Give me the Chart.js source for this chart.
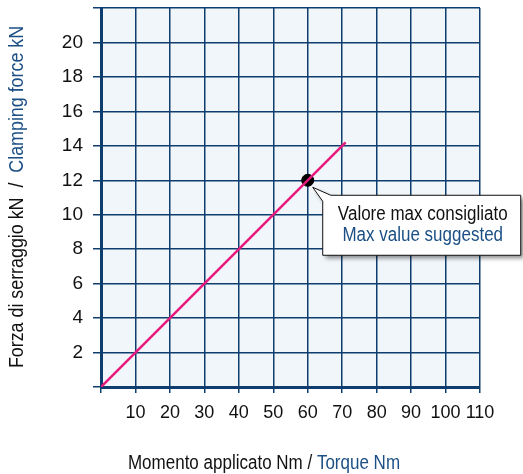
<!DOCTYPE html>
<html>
<head>
<meta charset="utf-8">
<script src="https://cdn.jsdelivr.net/npm/chart.js@4"></script>
<style>
  html, body { margin: 0; padding: 0; background: #fff; }
  #wrap { width: 523px; height: 474px; position: relative; }
</style>
</head>
<body>
<div id="wrap"><canvas id="c" width="523" height="474"></canvas></div>
<script>
// torque (Nm) vs clamping force (kN)
const torque = [0, 71];
const force = [0, 14.2];
// suggested max
const maxTorque = [60];
const maxForce = [12];

const xRange = [0, 110];
const yRange = [0, 22];

const FONT = "'Liberation Sans', Arial, sans-serif";
const NAVY = '#0f3d6d';
const BLUE = '#1b4f85';
const SQUEEZE = 0.85; // reference type is condensed

function drawParts(ctx, parts, x, y) {
  // parts centered on x, squeezed horizontally
  ctx.save();
  ctx.translate(x, y);
  ctx.scale(SQUEEZE, 1);
  let total = 0;
  parts.forEach(p => total += ctx.measureText(p[0]).width);
  let cx = -total / 2;
  parts.forEach(p => {
    ctx.fillStyle = p[1];
    ctx.fillText(p[0], cx, 0);
    cx += ctx.measureText(p[0]).width;
  });
  ctx.restore();
}

const extras = {
  id: 'extras',
  beforeDraw(chart) {
    const a = chart.chartArea, ctx = chart.ctx;
    ctx.save();
    ctx.fillStyle = '#f1f6fb';
    ctx.fillRect(a.left, a.top, a.right - a.left, a.bottom - a.top);
    ctx.restore();
  },
  afterDraw(chart) {
    const ctx = chart.ctx;
    ctx.save();
    ctx.font = '20px ' + FONT;
    ctx.textBaseline = 'middle';
    ctx.textAlign = 'left';
    drawParts(ctx, [['Momento applicato Nm / ', '#111'], ['Torque Nm', BLUE]], 264, 463);
    ctx.font = '21px ' + FONT;
    ctx.translate(17, 197);
    ctx.rotate(-Math.PI / 2);
    drawParts(ctx, [['Forza di serraggio kN  /  ', '#111'], ['Clamping force kN', BLUE]], 0, 0);
    ctx.restore();

    // callout
    const px = chart.scales.x.getPixelForValue(maxTorque[0]);
    const py = chart.scales.y.getPixelForValue(maxForce[0]);
    const bx = px + 15, by = py + 15, bw = 198, bh = 60;
    ctx.save();
    ctx.shadowColor = 'rgba(0,0,0,0.45)';
    ctx.shadowBlur = 4;
    ctx.shadowOffsetX = 3;
    ctx.shadowOffsetY = 3;
    ctx.beginPath();
    ctx.moveTo(px + 5, py + 7);
    ctx.lineTo(bx + 8, by);
    ctx.lineTo(bx + bw, by);
    ctx.lineTo(bx + bw, by + bh);
    ctx.lineTo(bx, by + bh);
    ctx.lineTo(bx, by + 6);
    ctx.closePath();
    ctx.fillStyle = '#fff';
    ctx.fill();
    ctx.shadowColor = 'transparent';
    ctx.strokeStyle = '#111';
    ctx.lineWidth = 1;
    ctx.stroke();
    ctx.font = '20px ' + FONT;
    ctx.textAlign = 'left';
    ctx.textBaseline = 'middle';
    drawParts(ctx, [['Valore max consigliato', '#111']], bx + bw / 2 + 1, by + 19);
    drawParts(ctx, [['Max value suggested', BLUE]], bx + bw / 2 + 1, by + 40);
    ctx.restore();
  }
};

new Chart(document.getElementById('c'), {
  type: 'scatter',
  data: {
    datasets: [
      {
        data: torque.map((t, i) => ({ x: t, y: force[i] })),
        showLine: true,
        borderColor: '#e8197c',
        borderWidth: 2.5,
        pointRadius: 0
      },
      {
        data: maxTorque.map((t, i) => ({ x: t, y: maxForce[i] })),
        backgroundColor: '#000',
        borderColor: '#000',
        pointRadius: 6
      }
    ]
  },
  options: {
    responsive: false,
    animation: false,
    layout: { padding: { left: 0, right: 43, top: 8, bottom: 0 } },
    plugins: { legend: { display: false }, tooltip: { enabled: false } },
    scales: {
      x: {
        type: 'linear',
        min: xRange[0], max: xRange[1],
        afterFit(s) { s.height = 87; s.paddingLeft = 0; s.paddingRight = 0; },
        ticks: {
          stepSize: 10,
          autoSkip: false,
          color: '#111',
          padding: 9,
          maxRotation: 0,
          font: { family: FONT, size: 18 },
          callback: v => v === 0 ? '' : v
        },
        grid: { color: NAVY, lineWidth: 1.5, tickLength: 6 },
        border: { color: NAVY, width: 3 }
      },
      y: {
        type: 'linear',
        min: yRange[0], max: yRange[1],
        afterFit(s) { s.width = 101; s.paddingTop = 0; s.paddingBottom = 0; },
        ticks: {
          stepSize: 2,
          autoSkip: false,
          color: '#111',
          padding: 10,
          font: { family: FONT, size: 19 },
          callback: v => (v === 0 || v === 22) ? '' : v
        },
        grid: { color: NAVY, lineWidth: 1.5, tickLength: 8 },
        border: { color: NAVY, width: 3 }
      }
    }
  },
  plugins: [extras]
});
</script>
</body>
</html>
